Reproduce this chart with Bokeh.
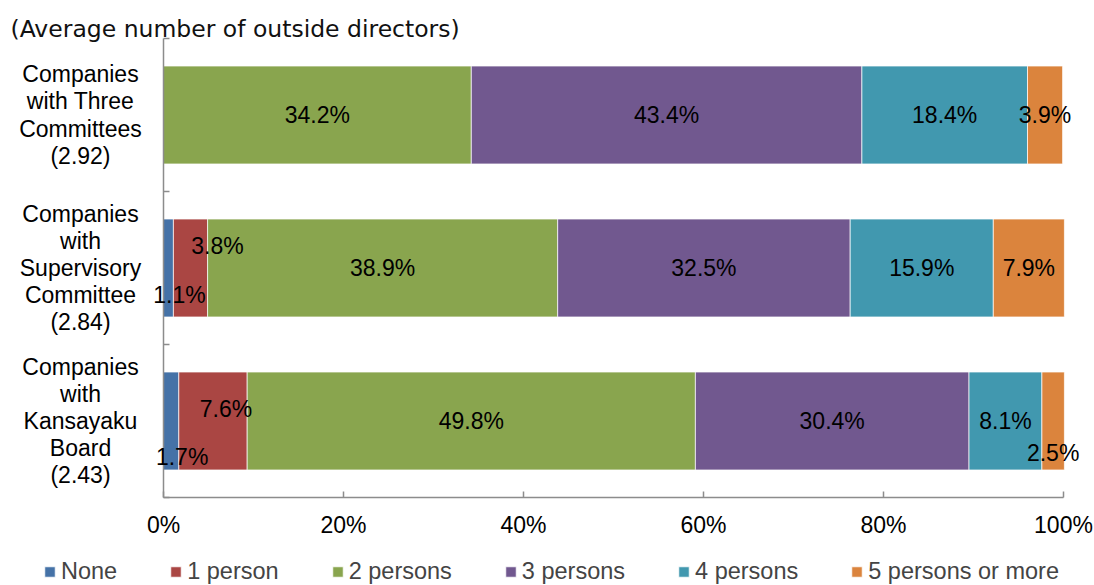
from bokeh.plotting import figure
from bokeh.models import (ColumnDataSource, FixedTicker, Label, LabelSet, Legend,
                          LegendItem, Range1d, LinearAxis)
from bokeh.core.properties import value
from bokeh.embed import file_html
from bokeh.resources import INLINE

# ---------------- data ----------------
categories = [
    "Companies\nwith Three\nCommittees\n(2.92)",
    "Companies\nwith\nSupervisory\nCommittee\n(2.84)",
    "Companies\nwith\nKansayaku\nBoard\n(2.43)",
]
series = ["None", "1 person", "2 persons", "3 persons", "4 persons", "5 persons or more"]
none_vals = [0.0, 1.1, 1.7]
one_vals = [0.0, 3.8, 7.6]
two_vals = [34.2, 38.9, 49.8]
three_vals = [43.4, 32.5, 30.4]
four_vals = [18.4, 15.9, 8.1]
five_vals = [3.9, 7.9, 2.5]
x_ticks = [0, 20, 40, 60, 80, 100]
title_text = "(Average number of outside directors)"

colors = ["#4572A7", "#AA4643", "#89A54E", "#71588F", "#4198AF", "#DB843D"]

# label nudges in pixels (right, down) for small segments, keyed by (series, category index)
nudges = {
    ("None", 1): (11, 27),
    ("1 person", 1): (27, -22),
    ("None", 2): (11, 36),
    ("1 person", 2): (13, -12),
    ("5 persons or more", 2): (0, 32),
}

# ---------------- layout (pixels) ----------------
W, H = 1094, 585
PX_X0, PX_X100 = 163, 1063      # pixel column of 0% and 100%
PX_TOP, PX_AXIS = 38, 497       # pixel row of top of category bands and of x axis
FONT = "Liberation Sans"

n = len(categories)
sx = (PX_X100 - PX_X0) / 100.0
sy = (PX_AXIS - PX_TOP) / n


def dx(px):
    return (px - PX_X0) / sx


def dy(py):
    return (PX_AXIS - py) / sy


ypos = [n - 0.5 - i for i in range(n)]

data = dict(y=ypos)
all_vals = [none_vals, one_vals, two_vals, three_vals, four_vals, five_vals]
for name, vals in zip(series, all_vals):
    data[name] = vals
source = ColumnDataSource(data)

p = figure(width=W, height=H, output_backend="svg", toolbar_location=None,
           x_range=Range1d(dx(0), dx(W)), y_range=Range1d(dy(H), dy(0)),
           x_axis_location=None, y_axis_location=None,
           min_border=0, min_border_left=0, min_border_right=0,
           min_border_top=0, min_border_bottom=0)
p.outline_line_color = None
p.xgrid.grid_line_color = None
p.ygrid.grid_line_color = None
p.background_fill_color = "white"

renderers = p.hbar_stack(series, y="y", height=0.64, source=source,
                         color=colors, line_color="white", line_width=1,
                         line_alpha=0.7)

# axes placed at the data origin
ax_col = "#8c8c8c"
xaxis = LinearAxis(fixed_location=0, bounds=(0, 100),
                   ticker=FixedTicker(ticks=x_ticks),
                   major_label_overrides={t: f"{t}%" for t in x_ticks},
                   major_label_text_font=FONT, major_label_text_font_size="23px",
                   major_label_text_color="black", major_label_standoff=14,
                   major_tick_in=6, major_tick_out=0,
                   minor_tick_line_color=None,
                   axis_line_color=ax_col, major_tick_line_color=ax_col,
                   axis_line_width=1.5, major_tick_line_width=1.5)
p.add_layout(xaxis, "below")

yaxis = LinearAxis(fixed_location=0, bounds=(0, n),
                   ticker=FixedTicker(ticks=[], minor_ticks=list(range(n + 1))),
                   major_tick_line_color=None,
                   minor_tick_in=6, minor_tick_out=0,
                   minor_tick_line_color=ax_col, minor_tick_line_width=1.5,
                   axis_line_color=ax_col, axis_line_width=1.5)
p.add_layout(yaxis, "left")

# category labels
for cat, yv in zip(categories, ypos):
    p.add_layout(Label(x=dx(80), y=yv, text=cat, text_align="center",
                       text_baseline="middle", text_font=FONT,
                       text_font_size="23px", text_color="black",
                       text_line_height=1.04))

# value labels
lx, ly, lt, ldx, ldy = [], [], [], [], []
for i in range(n):
    cum = 0.0
    for name, vals in zip(series, all_vals):
        v = vals[i]
        if v > 0:
            ox, oy = nudges.get((name, i), (0, 0))
            lx.append(cum + v / 2)
            ly.append(ypos[i])
            lt.append(f"{v:.1f}%")
            ldx.append(ox)
            ldy.append(-oy)
        cum += v
lsrc = ColumnDataSource(dict(x=lx, y=ly, t=lt, ox=ldx, oy=ldy))
p.add_layout(LabelSet(x="x", y="y", text="t", source=lsrc, x_offset="ox",
                      y_offset="oy", text_align="center", text_baseline="middle",
                      text_font=value(FONT), text_font_size=value("23px"),
                      text_color="black"))

# legend
legend = Legend(items=[LegendItem(label=s, renderers=[r]) for s, r in zip(series, renderers)],
                orientation="horizontal", location=(43, 0),
                glyph_width=13, glyph_height=13, label_standoff=5, spacing=52,
                label_text_font=FONT, label_text_font_size="23.5px",
                padding=0, margin=0, border_line_color=None,
                background_fill_alpha=0)
p.add_layout(legend, "center")

# title
p.add_layout(Label(x=dx(10), y=dy(28), text=title_text, text_align="left",
                   text_baseline="alphabetic", text_font="DejaVu Sans",
                   text_font_size="23.5px", text_color="#111111"))

open("out.html", "w").write(file_html(p, INLINE))
